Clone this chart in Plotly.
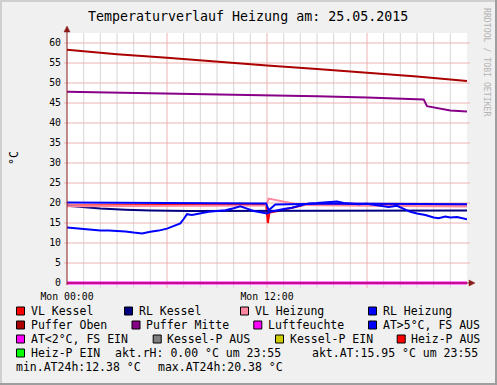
import plotly.graph_objects as go

# ---------------- data (hours since Mon 00:00) ----------------
t_vl_kessel = [0, 6, 11.95, 12.05, 12.15, 12.5, 13, 13.5, 14.2, 18, 24]
vl_kessel = [19.4, 19.5, 19.6, 15.0, 17.6, 17.9, 18.3, 18.8, 19.5, 19.6, 19.6]

t_rl_kessel = [0, 1, 2, 3.5, 5, 7.4, 12, 18, 24]
rl_kessel = [19.3, 18.9, 18.6, 18.3, 18.1, 18.0, 18.0, 18.0, 18.1]

t_vl_heizung = [0, 6, 11.95, 12.1, 13, 14.0, 18, 24]
vl_heizung = [19.2, 19.3, 19.4, 21.1, 20.4, 19.5, 19.3, 19.1]

t_rl_heizung = [0, 6, 11.95, 12.1, 12.5, 16, 20, 24]
rl_heizung = [20.1, 20.0, 19.9, 18.2, 19.6, 19.9, 19.8, 19.7]

t_puffer_oben = [0, 3, 6, 9, 12, 15, 18, 21, 24]
puffer_oben = [58.3, 57.2, 56.3, 55.3, 54.4, 53.5, 52.6, 51.6, 50.5]

t_puffer_mitte = [0, 3, 6, 9, 12, 15, 18, 20, 21.4, 21.6, 22, 23, 24]
puffer_mitte = [47.8, 47.6, 47.4, 47.2, 46.9, 46.7, 46.4, 46.1, 45.9, 44.2, 43.9, 43.1, 42.9]

t_luftfeuchte = [0, 24]
luftfeuchte = [0.0, 0.0]

t_at = [0, 0.5, 1, 1.5, 2, 2.5, 3, 3.5, 4, 4.5,
        5, 5.5, 6, 6.5, 6.8, 7.0, 7.2, 7.5, 8, 8.5,
        9, 9.5, 10, 10.4, 10.8, 11.2, 11.6, 12, 12.3, 12.6,
        13, 13.5, 14, 14.5, 15, 15.5, 16, 16.2, 16.6, 17,
        17.5, 18, 18.5, 19, 19.3, 19.8, 20.2, 20.6, 21, 21.5,
        22, 22.3, 22.7, 23, 23.4, 23.7, 24]
at = [13.9, 13.7, 13.4, 13.3, 13.1, 13.1, 13.0, 12.9, 12.6, 12.38,
      12.8, 13.1, 13.6, 14.3, 14.9, 16.0, 17.2, 17.0, 17.4, 17.8,
      18.0, 18.2, 18.7, 19.2, 18.6, 18.0, 17.7, 17.4, 17.9, 18.2,
      18.5, 18.8, 19.3, 19.9, 20.0, 20.1, 20.2, 20.38, 20.0, 19.8,
      19.7, 19.8, 19.5, 19.1, 19.0, 19.3, 18.5, 17.8, 17.4, 17.0,
      16.4, 16.2, 16.6, 16.4, 16.5, 16.2, 15.95]

hour_ticks = list(range(0, 25))
hour_labels = {0: "Mon 00:00", 12: "Mon 12:00"}
major_x_ticks = [0, 6, 12, 18]
y_tickvals = list(range(0, 61, 5))

legend_labels = ["VL Kessel", "RL Kessel", "VL Heizung", "RL Heizung",
                 "Puffer Oben", "Puffer Mitte", "Luftfeuchte", "AT>5°C, FS AUS",
                 "AT<2°C, FS EIN", "Kessel-P AUS", "Kessel-P EIN", "Heiz-P AUS",
                 "Heiz-P EIN"]
legend_colors = ["#FF0000", "#000080", "#FF88A0", "#0000FF",
                 "#AA0000", "#880088", "#FF00FF", "#0000FF",
                 "#FF00FF", "#808080", "#CCCC00", "#FF0000",
                 "#00FF00"]

title_text = "Temperaturverlauf Heizung am: 25.05.2015"

# ---------------- layout helpers ----------------
W, H = 497, 385
PL, PR, PT, PB = 67, 467, 33, 285
MONO = "DejaVu Sans Mono"
X_RANGE = [0, 24]
Y_RANGE = [-0.5, 62.5]
MGRID = "#EDB2B2"
GRID = "#D6D6D6"


def pxx(x):
    return (x - PL) / (PR - PL)


def pxy(y):
    return (PB - y) / (PB - PT)


fig = go.Figure()

series = [
    (t_vl_kessel, vl_kessel, legend_colors[0]),
    (t_rl_kessel, rl_kessel, legend_colors[1]),
    (t_vl_heizung, vl_heizung, legend_colors[2]),
    (t_rl_heizung, rl_heizung, legend_colors[3]),
    (t_puffer_oben, puffer_oben, legend_colors[4]),
    (t_puffer_mitte, puffer_mitte, legend_colors[5]),
    (t_luftfeuchte, luftfeuchte, legend_colors[6]),
    (t_at, at, legend_colors[7]),
]
for xs, ys, c in series:
    w = 3 if c == "#FF00FF" else 2
    fig.add_trace(go.Scatter(x=xs, y=ys, mode="lines",
                             line=dict(color=c, width=w), showlegend=False,
                             hoverinfo="skip"))

shapes = []
annotations = []

# grid (drawn between plot background and traces)
for h in hour_ticks[1:-1]:
    col = MGRID if h in major_x_ticks else GRID
    shapes.append(dict(type="line", xref="x", yref="y", x0=h, x1=h,
                       y0=Y_RANGE[0], y1=Y_RANGE[1], layer="between",
                       line=dict(color=col, width=1)))
    shapes.append(dict(type="line", xref="x", yref="paper", x0=h, x1=h,
                       y0=pxy(PB), y1=pxy(PB + 3),
                       line=dict(color=col, width=1)))
for v in y_tickvals[1:]:
    shapes.append(dict(type="line", xref="x", yref="y", x0=X_RANGE[0], x1=X_RANGE[1],
                       y0=v, y1=v, layer="between",
                       line=dict(color=MGRID, width=1)))
    for a, b in [(64, PL), (PR, 470)]:
        shapes.append(dict(type="line", xref="paper", yref="y", x0=pxx(a), x1=pxx(b),
                           y0=v, y1=v, line=dict(color=MGRID, width=1)))

# canvas borders (light top/left, dark bottom/right)
shapes.append(dict(type="rect", xref="paper", yref="paper",
                   x0=pxx(0), x1=pxx(W), y0=pxy(2), y1=pxy(0),
                   line=dict(width=0), fillcolor="#CFCFCF"))
shapes.append(dict(type="rect", xref="paper", yref="paper",
                   x0=pxx(0), x1=pxx(2), y0=pxy(H), y1=pxy(0),
                   line=dict(width=0), fillcolor="#CFCFCF"))
shapes.append(dict(type="rect", xref="paper", yref="paper",
                   x0=pxx(W - 2), x1=pxx(W), y0=pxy(H), y1=pxy(0),
                   line=dict(width=0), fillcolor="#9E9E9E"))
shapes.append(dict(type="rect", xref="paper", yref="paper",
                   x0=pxx(0), x1=pxx(W), y0=pxy(H), y1=pxy(H - 2),
                   line=dict(width=0), fillcolor="#9E9E9E"))

AX = "#8B1A1A"
shapes.append(dict(type="line", xref="paper", yref="y", x0=pxx(PL), x1=pxx(470),
                   y0=0, y1=0, line=dict(color=AX, width=1)))
shapes.append(dict(type="line", xref="paper", yref="paper", x0=0, x1=0,
                   y0=pxy(285), y1=pxy(30), line=dict(color=AX, width=1)))


def tri(pts):
    return "M " + " L ".join(f"{pxx(a)},{pxy(b)}" for a, b in pts) + " Z"


shapes.append(dict(type="path", xref="paper", yref="paper",
                   path=tri([(469, 280), (469, 286), (475, 283)]),
                   fillcolor=AX, line=dict(color=AX, width=0.5)))
shapes.append(dict(type="path", xref="paper", yref="paper",
                   path=tri([(64, 32), (70, 32), (67, 26)]),
                   fillcolor=AX, line=dict(color=AX, width=0.5)))

annotations.append(dict(text=title_text, xref="paper", yref="paper",
                        x=pxx(248), y=pxy(16), xanchor="center", yanchor="middle",
                        showarrow=False, font=dict(family=MONO, size=13.3, color="#000000")))
annotations.append(dict(text="°C", xref="paper", yref="paper", textangle=-90,
                        x=pxx(14), y=pxy(158), xanchor="center", yanchor="middle",
                        showarrow=False, font=dict(family=MONO, size=11.5, color="#000000")))
annotations.append(dict(text="RRDTOOL / TOBI OETIKER", xref="paper", yref="paper",
                        textangle=90, x=pxx(487), y=pxy(62), xanchor="center",
                        yanchor="middle", showarrow=False, borderpad=0, borderwidth=0,
                        font=dict(family=MONO, size=8.2, color="#B4B4B4")))

row_y = [311, 325, 339, 353, 367]
swatch_pos = [(16, 0), (124, 0), (240, 0), (368, 0),
              (16, 1), (131.5, 1), (253.3, 1), (368, 1),
              (16, 2), (152.7, 2), (275, 2), (396.7, 2),
              (16, 3)]
for lab, col, (sx, r) in zip(legend_labels, legend_colors, swatch_pos):
    yc = row_y[r]
    shapes.append(dict(type="rect", xref="paper", yref="paper",
                       x0=pxx(sx + 0.5), x1=pxx(sx + 8.5), y0=pxy(yc + 4), y1=pxy(yc - 4),
                       fillcolor=col, line=dict(color="#000000", width=1)))
    annotations.append(dict(text=lab, xref="paper", yref="paper",
                            x=pxx(sx + 14.5), y=pxy(yc), xanchor="left", yanchor="middle",
                            showarrow=False, borderpad=0, borderwidth=0,
                            font=dict(family=MONO, size=11.5, color="#000000")))

extra_texts = [
    (f"akt.rH: {luftfeuchte[-1]:.2f} °C um 23:55", 115, 3),
    (f"akt.AT:{at[-1]:.2f} °C um 23:55", 312.3, 3),
    (f"min.AT24h:{min(at):.2f} °C", 16, 4),
    (f"max.AT24h:{max(at):.2f} °C", 158.3, 4),
]
for txt, x0, r in extra_texts:
    annotations.append(dict(text=txt, xref="paper", yref="paper",
                            x=pxx(x0), y=pxy(row_y[r]), xanchor="left", yanchor="middle",
                            showarrow=False, borderpad=0, borderwidth=0,
                            font=dict(family=MONO, size=11.5, color="#000000")))

fig.update_layout(
    width=W, height=H,
    margin=dict(l=PL, r=W - PR, t=PT, b=H - PB, pad=0),
    paper_bgcolor="#F0F0F0", plot_bgcolor="#FFFFFF",
    shapes=shapes, annotations=annotations,
    xaxis=dict(range=X_RANGE, tickmode="array", tickvals=hour_ticks,
               ticktext=[hour_labels.get(h, "") for h in hour_ticks],
               showgrid=False, zeroline=False, showline=False, ticks="",
               ticklabelstandoff=4, automargin=False,
               tickfont=dict(family=MONO, size=9.8, color="#000000")),
    yaxis=dict(range=Y_RANGE, tickmode="array", tickvals=y_tickvals, showgrid=False,
               zeroline=False, showline=False, ticks="", ticklabelstandoff=5,
               automargin=False,
               tickfont=dict(family=MONO, size=9.8, color="#000000")),
)

fig.write_html("out.html", config={"displayModeBar": False},
               post_script="document.body.style.margin='0';document.body.style.overflow='hidden';")
